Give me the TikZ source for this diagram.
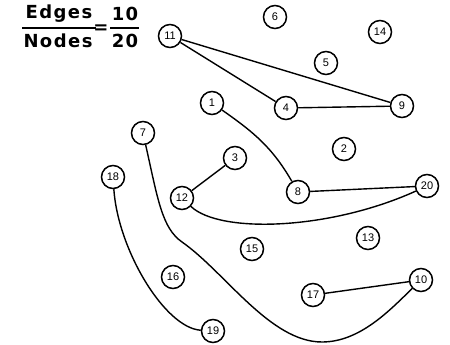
\documentclass[tikz,border=0pt]{standalone}
\usepackage{fontspec}
\setmainfont{Liberation Sans}
\newfontfamily\titlefont[LetterSpace=8]{DejaVu Sans}
\begin{document}
\begin{tikzpicture}[x=1pt,y=-1pt,
  vtx/.style={draw,circle,line width=1.5pt,minimum size=23pt,inner sep=0pt,font=\fontsize{11}{11}\selectfont},
  edge/.style={line width=1.4pt},
  ttl/.style={font=\titlefont\bfseries\fontsize{18}{18}\selectfont,inner sep=0pt}]
\useasboundingbox (0,0) rectangle (450,345);
% title
\node[ttl] (ed) at (59,14) {Edges};
\node[ttl] (no) at (58,41) {Nodes};
\node[ttl] (ten) at (125,14) {10};
\node[ttl] (twe) at (125,41) {20};
\node[ttl] (eq) at (101,29) {=};
\coordinate (l1a) at (22,28); \coordinate (l1b) at (96,28);
\coordinate (l2a) at (110,28); \coordinate (l2b) at (139,28);
\draw[line width=1.6pt] (l1a) -- (l1b);
\draw[line width=1.6pt] (l2a) -- (l2b);
% vertices
\node[vtx] (n11) at (170,36) {11};
\node[vtx] (n6) at (275,17) {6};
\node[vtx] (n14) at (380,32) {14};
\node[vtx] (n5) at (326,63) {5};
\node[vtx] (n4) at (286,108) {4};
\node[vtx] (n9) at (402,106) {9};
\node[vtx] (n1) at (212,103) {1};
\node[vtx] (n7) at (143,133) {7};
\node[vtx] (n18) at (113,177) {18};
\node[vtx] (n12) at (182,198) {12};
\node[vtx] (n3) at (235,158) {3};
\node[vtx] (n2) at (344,149) {2};
\node[vtx] (n8) at (298,192) {8};
\node[vtx] (n20) at (427,186) {20};
\node[vtx] (n16) at (173,277) {16};
\node[vtx] (n19) at (213,331) {19};
\node[vtx] (n15) at (252,249) {15};
\node[vtx] (n13) at (368,238) {13};
\node[vtx] (n17) at (313,295) {17};
\node[vtx] (n10) at (421,280) {10};
% edges
\draw[edge] (n11) -- (n4);
\draw[edge] (n11) -- (n9);
\draw[edge] (n4) -- (n9);
\draw[edge] (n3) -- (n12);
\draw[edge] (n8) -- (n20);
\draw[edge] (n17) -- (n10);
\draw[edge] (n1) to[out=-35,in=120] (n8);
\draw[edge] (n12) .. controls (220,234) and (330,230) .. (n20);
\draw[edge] (n18) .. controls (118,250) and (165,328) .. (n19);
\draw[edge] (n7) .. controls (158,200) and (162,228) .. (182,242)
  .. controls (225,272) and (270,342) .. (322,342)
  .. controls (360,342) and (390,310) .. (n10);
\end{tikzpicture}
\end{document}
